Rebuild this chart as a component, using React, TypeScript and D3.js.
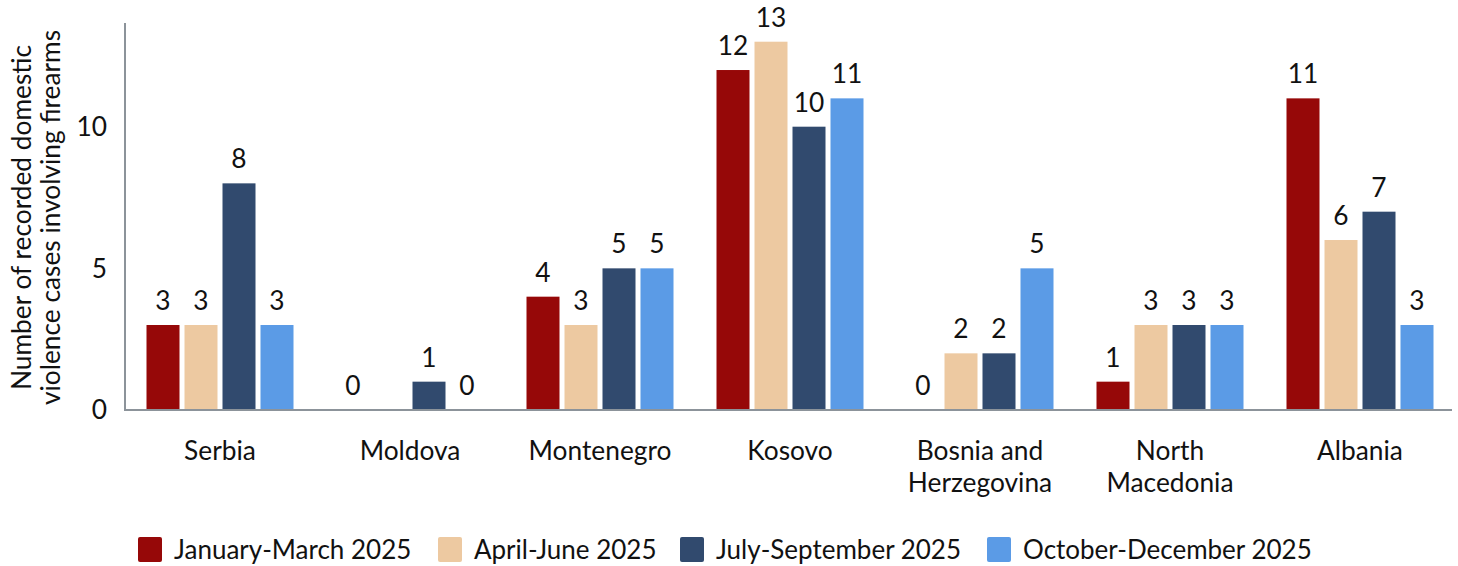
import React from "react";
import * as d3 from "d3";

const categories = ["Serbia", "Moldova", "Montenegro", "Kosovo", "Bosnia and Herzegovina", "North Macedonia", "Albania"];
const categoryLines = [["Serbia"], ["Moldova"], ["Montenegro"], ["Kosovo"], ["Bosnia and", "Herzegovina"], ["North", "Macedonia"], ["Albania"]];
const seriesNames = ["January-March 2025", "April-June 2025", "July-September 2025", "October-December 2025"];
const seriesColors = ["#960808", "#EDC9A1", "#314A6E", "#5B9BE6"];
const janMar: (number | null)[] = [3, 0, 4, 12, 0, 1, 11];
const aprJun: (number | null)[] = [3, null, 3, 13, 2, 3, 6];
const julSep: (number | null)[] = [8, 1, 5, 10, 2, 3, 7];
const octDec: (number | null)[] = [3, 0, 5, 11, 5, 3, 3];
const seriesValues = [janMar, aprJun, julSep, octDec];
const yTicks = [0, 5, 10];
const yMax = 13.66;

const W = 1458, H = 566;
const left = 125, right = 1452, top = 23, bottom = 410;
const FONT = "Lato, 'Open Sans', sans-serif";
const FS = 26.3;
const LFS = 26;
const AXIS = "#8C939A";

export default function App() {
  const x = d3.scaleBand<string>().domain(categories).range([left, left + 190 * 7]).padding(0);
  const xi = d3.scaleBand<string>().domain(seriesNames).range([21.5, 168.5]).paddingInner(5 / 38).paddingOuter(0);
  const y = d3.scaleLinear().domain([0, yMax]).range([bottom, top]);

  const legendX = [138, 438, 680, 987];

  return (
    <svg width={W} height={H} style={{ position: "absolute", left: 0, top: 0, background: "#fff" }} fontFamily={FONT}>
      <rect x={0} y={0} width={W} height={H} fill="#fff" />
      {/* y title */}
      <g transform={`translate(0,${(top + bottom) / 2 + 1}) rotate(-90)`}>
        <text x={0} y={31} textAnchor="middle" fontSize={FS} fill="#111">Number of recorded domestic</text>
        <text x={0} y={60} textAnchor="middle" fontSize={FS} fill="#111">violence cases involving firearms</text>
      </g>
      {/* y ticks */}
      {yTicks.map((t) => (
        <text key={t} x={107} y={y(t)} dy="0.36em" textAnchor="end" fontSize={FS} fill="#111">{t}</text>
      ))}
      {/* bars */}
      {categories.map((c, ci) => (
        <g key={c} transform={`translate(${x(c)},0)`}>
          {seriesValues.map((vals, si) => {
            const v = vals[ci];
            if (v === null) return null;
            const bx = xi(seriesNames[si])!;
            return (
              <g key={si}>
                {v > 0 && (
                  <rect x={bx} y={y(v)} width={xi.bandwidth()} height={y(0) - y(v)} fill={seriesColors[si]} />
                )}
                <text x={bx + xi.bandwidth() / 2} y={y(v) - 15} textAnchor="middle" fontSize={FS} fill="#111">{v}</text>
              </g>
            );
          })}
          {categoryLines[ci].map((ln, li) => (
            <text key={li} x={x.bandwidth() / 2} y={460 + li * 32} textAnchor="middle" fontSize={FS} fill="#111">{ln}</text>
          ))}
        </g>
      ))}
      {/* axes */}
      <line x1={left} x2={left} y1={top} y2={bottom + 1} stroke={AXIS} strokeWidth={2} />
      <line x1={left - 1} x2={right} y1={bottom} y2={bottom} stroke={AXIS} strokeWidth={2} />
      {/* legend */}
      {seriesNames.map((s, si) => (
        <g key={s} transform={`translate(${legendX[si]},537)`}>
          <rect x={0} y={0} width={24} height={25} rx={2} fill={seriesColors[si]} />
          <text x={36} y={12.5} dy="0.36em" fontSize={LFS} fill="#111">{s}</text>
        </g>
      ))}
    </svg>
  );
}
